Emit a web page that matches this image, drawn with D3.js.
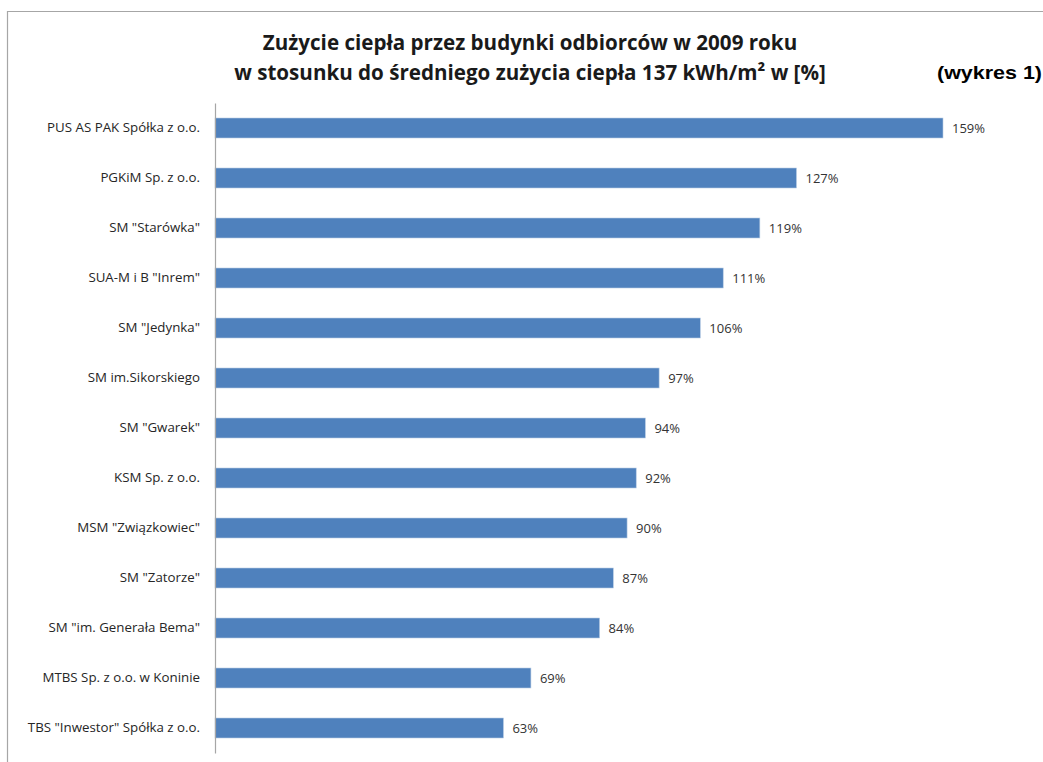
<!DOCTYPE html>
<html>
<head>
<meta charset="utf-8">
<script src="https://cdn.jsdelivr.net/npm/d3@7"></script>
<style>
  body { margin: 0; background: #fff; }
</style>
</head>
<body>
<div id="chart-container"></div>
<script>
// data
const categories = [
    'PUS AS PAK Spółka z o.o.',
    'PGKiM Sp. z o.o.',
    'SM  "Starówka"',
    'SUA-M i B "Inrem"',
    'SM "Jedynka"',
    'SM im.Sikorskiego',
    'SM "Gwarek"',
    'KSM Sp. z o.o.',
    'MSM "Związkowiec"',
    'SM "Zatorze"',
    'SM "im. Generała Bema"',
    'MTBS Sp. z o.o. w Koninie',
    'TBS "Inwestor" Spółka z o.o.'
];
const values = [159, 127, 119, 111, 106, 97, 94, 92, 90, 87, 84, 69, 63];

const titleLines = [
    'Zużycie ciepła przez budynki odbiorców w 2009 roku',
    'w stosunku do średniego zużycia ciepła 137 kWh/m² w [%]'
];
const sideNote = '(wykres 1)';

const W = 1043, H = 762;
const margin = { top: 103, left: 215, bottom: 9 };

const svg = d3.select('#chart-container')
    .append('svg')
    .attr('width', W)
    .attr('height', H);

// chart frame (top + left edge visible)
svg.append('path')
    .attr('d', `M7.5,${H} V11.5 H${W}`)
    .attr('fill', 'none')
    .attr('stroke', '#a6a6a6')
    .attr('stroke-width', 1.2);

// scales
const x = d3.scaleLinear().domain([0, 159]).range([margin.left, 943]);
const y = d3.scaleBand()
    .domain(categories)
    .range([margin.top, H - margin.bottom])
    .paddingInner(0.6)
    .paddingOuter(0.3);

// bars
svg.selectAll('rect.bar')
    .data(values)
    .join('rect')
    .attr('class', 'bar')
    .attr('x', x(0))
    .attr('y', (d, i) => y(categories[i]))
    .attr('width', d => x(d) - x(0))
    .attr('height', y.bandwidth())
    .attr('fill', '#4f81bd')
    .attr('stroke', '#b9cde5')
    .attr('stroke-width', 0.6);

// value labels
svg.selectAll('text.val')
    .data(values)
    .join('text')
    .attr('class', 'val')
    .attr('x', d => x(d) + 9)
    .attr('y', (d, i) => y(categories[i]) + y.bandwidth() / 2)
    .attr('dy', '0.35em')
    .style('font-family', 'Open Sans, sans-serif')
    .style('font-size', '13px')
    .style('fill', '#333')
    .text(d => d + '%');

// category axis
const yAxis = svg.append('g')
    .attr('transform', `translate(${margin.left},0)`)
    .call(d3.axisLeft(y).tickSize(0).tickPadding(15));
yAxis.select('.domain').attr('stroke', '#a6a6a6').attr('stroke-width', 1.2);
yAxis.selectAll('.tick text')
    .style('font-family', 'Open Sans, sans-serif')
    .style('font-size', '13.3px')
    .style('fill', '#262626');

// title
svg.selectAll('text.title')
    .data(titleLines)
    .join('text')
    .attr('class', 'title')
    .attr('x', 530)
    .attr('y', (d, i) => 50 + i * 30)
    .attr('text-anchor', 'middle')
    .style('font-family', 'Open Sans, sans-serif')
    .style('font-weight', 'bold')
    .style('font-size', '20.6px')
    .style('fill', '#1a1a1a')
    .text(d => d);

svg.append('text')
    .attr('x', 937)
    .attr('y', 79)
    .attr('textLength', 105)
    .attr('lengthAdjust', 'spacingAndGlyphs')
    .style('font-family', 'Liberation Sans, Arial, sans-serif')
    .style('font-weight', 'bold')
    .style('font-size', '19px')
    .style('fill', '#000')
    .text(sideNote);
</script>
</body>
</html>
